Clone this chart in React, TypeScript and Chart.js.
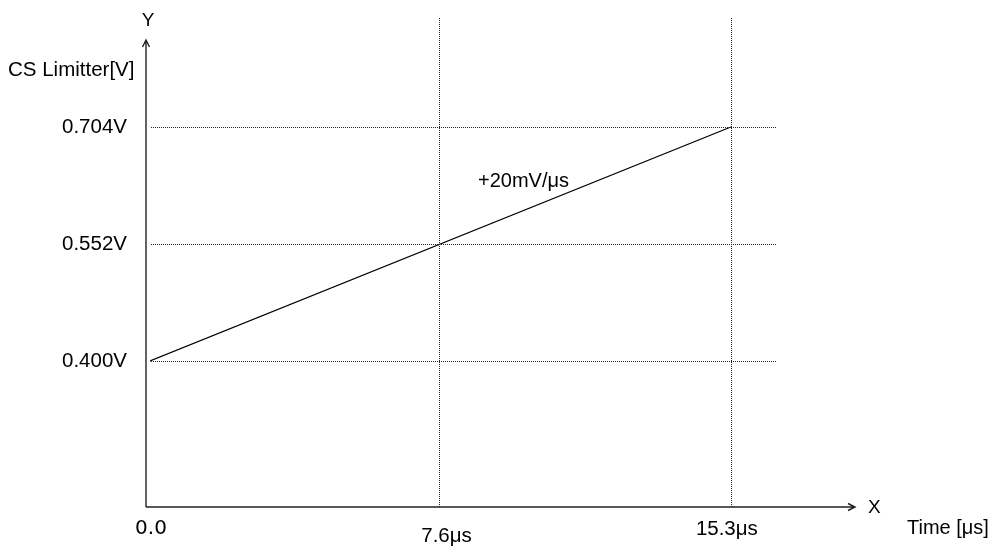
import React, { useEffect, useRef } from "react";
import { Chart, registerables } from "chart.js";

Chart.register(...registerables);

// Data
const timeUs = [0, 15.3];
const voltage = [0.4, 0.704];
const xTickValues = [0, 7.6, 15.3];
const xTickLabels = ["0.0", "7.6μs", "15.3μs"];
const yTickValues = [0.4, 0.552, 0.704];
const yTickLabels = ["0.400V", "0.552V", "0.704V"];
const slopeLabel = "+20mV/μs";
const slopeLabelAt = [8.64, 0.633];
const xAxisTitle = "Time [μs]";
const yAxisTitle = "CS Limitter[V]";
const X_RANGE = [0, 18.57];
const Y_RANGE = [0.2103, 0.8456];
const GRID_X_END = 16.5;

const FONT = "'Liberation Sans', Arial, sans-serif";

const diagramPlugin = {
  id: "diagram",
  afterDatasetsDraw(chart: any) {
    const ctx = chart.ctx as CanvasRenderingContext2D;
    const xs = chart.scales.x;
    const ys = chart.scales.y;
    const area = chart.chartArea;
    const x0 = xs.getPixelForValue(0);
    const axisX = x0 - 4;
    const bottom = area.bottom;
    ctx.save();

    // dotted grid
    ctx.strokeStyle = "#222";
    ctx.lineWidth = 1;
    ctx.setLineDash([1, 1]);
    xTickValues.forEach((v) => {
      if (v === 0) return;
      const px = Math.round(xs.getPixelForValue(v)) + 0.5;
      ctx.beginPath();
      ctx.moveTo(px, area.top);
      ctx.lineTo(px, bottom);
      ctx.stroke();
    });
    yTickValues.forEach((v) => {
      const py = Math.round(ys.getPixelForValue(v)) + 0.5;
      ctx.beginPath();
      ctx.moveTo(x0 + 1, py);
      ctx.lineTo(xs.getPixelForValue(GRID_X_END), py);
      ctx.stroke();
    });
    ctx.setLineDash([]);

    // axes
    ctx.strokeStyle = "#222";
    ctx.lineWidth = 1.4;
    const yTop = area.top + 22;
    ctx.beginPath();
    ctx.moveTo(axisX, bottom);
    ctx.lineTo(axisX, yTop);
    ctx.moveTo(axisX - 3.5, yTop + 7);
    ctx.lineTo(axisX, yTop);
    ctx.lineTo(axisX + 3.5, yTop + 7);
    ctx.stroke();
    const xRight = area.right;
    ctx.beginPath();
    ctx.moveTo(axisX, bottom);
    ctx.lineTo(xRight, bottom);
    ctx.moveTo(xRight - 7, bottom - 3.5);
    ctx.lineTo(xRight, bottom);
    ctx.lineTo(xRight - 7, bottom + 3.5);
    ctx.stroke();

    // text
    ctx.fillStyle = "#000";
    ctx.textBaseline = "middle";
    ctx.font = `20.5px ${FONT}`;
    ctx.textAlign = "right";
    yTickValues.forEach((v, i) => {
      ctx.fillText(yTickLabels[i], axisX - 19, ys.getPixelForValue(v));
    });
    ctx.textAlign = "center";
    xTickValues.forEach((v, i) => {
      const px = xs.getPixelForValue(v) + (i === 0 ? 1 : i === 1 ? 8 : -4);
      ctx.font = i === 0 ? `20px 'DejaVu Sans', sans-serif` : `20.5px ${FONT}`;
      ctx.fillText(xTickLabels[i], px, bottom + (i === 1 ? 29 : 22));
    });
    ctx.font = `20px ${FONT}`;
    ctx.textAlign = "left";
    ctx.fillText(slopeLabel, xs.getPixelForValue(slopeLabelAt[0]), ys.getPixelForValue(slopeLabelAt[1]));
    ctx.fillText(xAxisTitle, xRight + 52, bottom + 21);
    ctx.font = `19px ${FONT}`;
    ctx.fillText("X", xRight + 13, bottom + 1);
    ctx.textAlign = "center";
    ctx.fillText("Y", axisX + 2, area.top + 3);
    ctx.font = `20.5px ${FONT}`;
    ctx.textAlign = "left";
    ctx.fillText(yAxisTitle, 8, area.top + 52);
    ctx.restore();
  },
};

export default function App() {
  const ref = useRef<HTMLCanvasElement>(null);
  useEffect(() => {
    document.body.style.margin = "0";
    const chart = new Chart(ref.current!, {
      type: "scatter",
      data: {
        datasets: [
          {
            data: timeUs.map((t, i) => ({ x: t, y: voltage[i] })),
            showLine: true,
            borderColor: "#000",
            borderWidth: 1.3,
            pointRadius: 0,
            fill: false,
          },
        ],
      },
      options: {
        animation: false,
        responsive: false,
        layout: { padding: { left: 150, right: 138, top: 18, bottom: 40 } },
        plugins: { legend: { display: false }, tooltip: { enabled: false } },
        scales: {
          x: { type: "linear", min: X_RANGE[0], max: X_RANGE[1], display: false },
          y: { type: "linear", min: Y_RANGE[0], max: Y_RANGE[1], display: false },
        },
      },
      plugins: [diagramPlugin],
    });
    return () => chart.destroy();
  }, []);
  return (
    <div style={{ position: "absolute", left: 0, top: 0, width: 993, height: 547, background: "#fff" }}>
      <canvas ref={ref} width={993} height={547} style={{ width: 993, height: 547 }} />
    </div>
  );
}
